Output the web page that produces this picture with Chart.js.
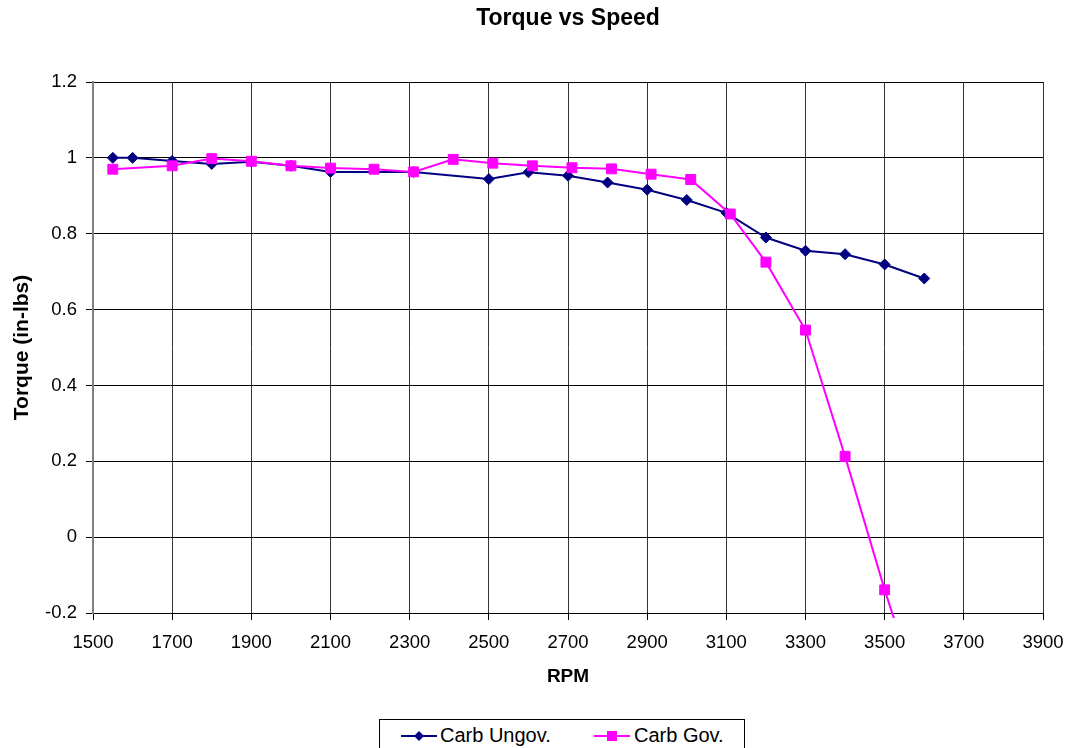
<!DOCTYPE html>
<html>
<head>
<meta charset="utf-8">
<title>Torque vs Speed</title>
<script src="https://cdn.jsdelivr.net/npm/chart.js@4.4.1/dist/chart.umd.min.js"></script>
<style>
  html, body { margin: 0; padding: 0; background: #fff; overflow: hidden; }
  #wrap { position: relative; width: 1077px; height: 748px; }
  #chart { display: block; }
  #legend {
    position: absolute; left: 379px; top: 719px; width: 366px; height: 44px;
    border: 1px solid #000; box-sizing: border-box; background: #fff;
    font: 20px "Liberation Sans", Arial, sans-serif; color: #000;
  }
  #legend .sym { position: absolute; top: 10px; }
  #legend .txt { position: absolute; top: 5px; line-height: 20px; white-space: nowrap; }
</style>
</head>
<body>
<div id="wrap">
  <canvas id="chart" width="1077" height="748"></canvas>
  <div id="legend">
    <svg class="sym" style="left:21px" width="36" height="12" viewBox="0 0 36 12">
      <line x1="0" y1="6" x2="36" y2="6" stroke="#000080" stroke-width="2"/>
      <polygon points="18,1 23,6 18,11 13,6" fill="#000080"/>
    </svg>
    <span class="txt" style="left:60px">Carb Ungov.</span>
    <svg class="sym" style="left:214px" width="36" height="12" viewBox="0 0 36 12">
      <line x1="0" y1="6" x2="36" y2="6" stroke="#ff00ff" stroke-width="2"/>
      <rect x="13" y="1" width="10" height="10" fill="#ff00ff"/>
    </svg>
    <span class="txt" style="left:254px">Carb Gov.</span>
  </div>
</div>
<script>
// Ungoverned carburettor run
const ungovRpm    = [1550, 1600, 1700, 1800, 1900, 2000, 2100, 2310, 2500, 2600, 2700, 2800, 2900, 3000, 3100, 3200, 3300, 3400, 3500, 3600];
const ungovTorque = [1.000, 1.000, 0.992, 0.984, 0.990, 0.979, 0.963, 0.963, 0.944, 0.962, 0.953, 0.935, 0.916, 0.889, 0.855, 0.790, 0.755, 0.746, 0.719, 0.682];

// Governed carburettor run
const govRpm    = [1550, 1700, 1800, 1900, 2000, 2100, 2210, 2310, 2410, 2510, 2610, 2710, 2810, 2910, 3010, 3110, 3200, 3300, 3400, 3500, 3600];
const govTorque = [0.970, 0.979, 0.998, 0.991, 0.979, 0.973, 0.970, 0.963, 0.996, 0.986, 0.979, 0.974, 0.971, 0.957, 0.943, 0.852, 0.725, 0.546, 0.213, -0.139, -0.460];

// Axis ticks
const xTicks = [1500, 1700, 1900, 2100, 2300, 2500, 2700, 2900, 3100, 3300, 3500, 3700, 3900];
const xTickLabels = ['1500', '1700', '1900', '2100', '2300', '2500', '2700', '2900', '3100', '3300', '3500', '3700', '3900'];
const yTicks = [-0.2, 0, 0.2, 0.4, 0.6, 0.8, 1, 1.2];
const yTickLabels = ['-0.2', '0', '0.2', '0.4', '0.6', '0.8', '1', '1.2'];

const pairs = (xs, ys) => xs.map((x, i) => ({ x: x, y: ys[i] }));

Chart.defaults.font.family = '"Liberation Sans", Arial, sans-serif';
Chart.defaults.color = '#000';

new Chart(document.getElementById('chart'), {
  type: 'line',
  data: {
    datasets: [
      {
        label: 'Carb Ungov.',
        data: pairs(ungovRpm, ungovTorque),
        borderColor: '#000080',
        backgroundColor: '#000080',
        borderWidth: 2,
        pointStyle: 'rectRot',
        pointRadius: 5.5,
        pointBorderWidth: 1,
        tension: 0,
        order: 1,
        clip: { left: 2, top: 2, right: 2, bottom: 5 }
      },
      {
        label: 'Carb Gov.',
        data: pairs(govRpm, govTorque),
        borderColor: '#ff00ff',
        backgroundColor: '#ff00ff',
        borderWidth: 2,
        pointStyle: 'rect',
        pointRadius: 7,
        pointBorderWidth: 1,
        tension: 0,
        order: 0,
        clip: { left: 2, top: 2, right: 2, bottom: 5 }
      }
    ]
  },
  options: {
    responsive: false,
    animation: false,
    devicePixelRatio: 1,
    layout: { padding: { top: 0, right: 34, bottom: 0, left: 0 } },
    plugins: {
      legend: { display: false },
      tooltip: { enabled: false },
      title: {
        display: true,
        text: 'Torque vs Speed',
        fullSize: false,
        color: '#000',
        font: { size: 23, weight: 'bold' },
        padding: { top: 4.5, bottom: 49.9 }
      }
    },
    scales: {
      x: {
        type: 'linear',
        min: 1500,
        max: 3900,
        afterBuildTicks: s => { s.ticks = xTicks.map(v => ({ value: v })); },
        afterFit: s => { s.height = 135; },
        ticks: { font: { size: 18.5 }, color: '#000', padding: 11.5, maxRotation: 0, callback: (v, i) => xTickLabels[i] },
        grid: { color: '#333', lineWidth: 1, tickLength: 7, tickColor: '#000' },
        border: { color: '#000', width: 1 },
        title: {
          display: true, text: 'RPM', color: '#000',
          font: { size: 19, weight: 'bold' },
          padding: { top: 0, bottom: 59.6 }
        }
      },
      y: {
        type: 'linear',
        min: -0.2,
        max: 1.2,
        afterBuildTicks: s => { s.ticks = yTicks.map(v => ({ value: v })); },
        afterFit: s => { s.width = 93; },
        ticks: { font: { size: 18.5 }, color: '#000', padding: 9, callback: (v, i) => yTickLabels[i] },
        grid: { color: '#000', lineWidth: 1, tickLength: 7, tickColor: '#000' },
        border: { color: '#808080', width: 2 },
        title: {
          display: true, text: 'Torque (in-lbs)', color: '#000',
          font: { size: 21, weight: 'bold' },
          padding: { top: 9.4, bottom: 0 }
        }
      }
    }
  }
});
</script>
</body>
</html>
